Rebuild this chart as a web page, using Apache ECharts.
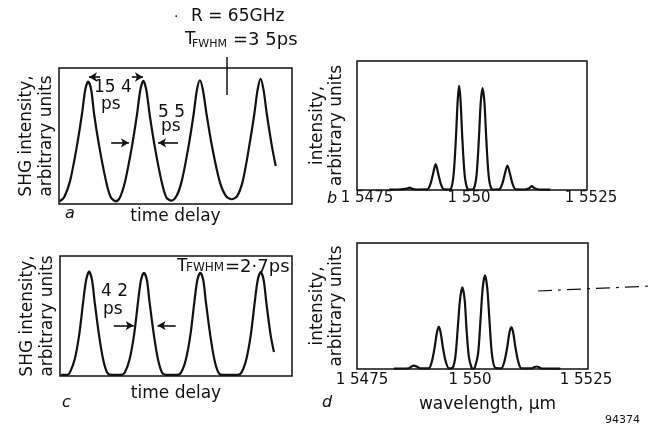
<!DOCTYPE html>
<html>
<head>
<meta charset="utf-8">
<script src="https://cdn.jsdelivr.net/npm/echarts@6/dist/echarts.min.js"></script>
<style>
html, body { margin: 0; padding: 0; background: #fff; }
#main { width: 651px; height: 426px; }
</style>
</head>
<body>
<div id="main"></div>
<script>
// a: SHG autocorrelation, R = 65GHz, T_FWHM = 3.5ps   [time delay (ps), intensity]
var traceA = [
    [0.2, 0.02], [1.4, 0.05], [3.0, 0.17], [4.8, 0.42], [6.2, 0.66], [7.1, 0.84], [7.9, 0.90],
    [8.7, 0.84], [9.5, 0.66], [10.9, 0.42], [12.7, 0.17], [14.0, 0.05], [15.4, 0.02],
    [16.5, 0.05], [17.9, 0.17], [19.7, 0.42], [21.1, 0.66], [22.0, 0.84], [22.8, 0.905],
    [23.6, 0.84], [24.5, 0.66], [25.9, 0.42], [27.7, 0.17], [29.0, 0.05], [30.4, 0.025],
    [31.8, 0.06], [33.2, 0.17], [35.0, 0.42], [36.4, 0.66], [37.3, 0.84], [38.1, 0.91],
    [38.9, 0.84], [39.9, 0.66], [41.4, 0.42], [43.4, 0.17], [45.1, 0.06], [46.7, 0.035],
    [48.2, 0.06], [49.7, 0.17], [51.4, 0.42], [52.8, 0.66], [53.7, 0.84], [54.5, 0.92],
    [55.3, 0.84], [56.2, 0.66], [57.6, 0.42], [58.6, 0.28]
];
// c: T_FWHM = 2.7ps
var traceC = [
    [0.3, 0.01], [2.0, 0.01], [2.7, 0.03], [4.0, 0.14], [5.2, 0.34], [6.3, 0.62], [7.1, 0.80],
    [7.9, 0.87], [8.7, 0.80], [9.4, 0.62], [10.6, 0.34], [11.7, 0.14], [12.8, 0.03], [13.9, 0.01],
    [16.6, 0.01], [17.6, 0.03], [18.9, 0.14], [20.1, 0.34], [21.2, 0.62], [22.0, 0.80], [22.8, 0.86],
    [23.6, 0.80], [24.3, 0.62], [25.5, 0.34], [26.6, 0.14], [27.7, 0.03], [28.8, 0.01],
    [31.8, 0.01], [32.9, 0.03], [34.2, 0.14], [35.4, 0.34], [36.5, 0.62], [37.3, 0.80], [38.1, 0.86],
    [38.9, 0.80], [39.6, 0.62], [40.8, 0.34], [41.9, 0.14], [43.0, 0.03], [44.0, 0.01],
    [48.2, 0.01], [49.3, 0.03], [50.6, 0.14], [51.8, 0.34], [52.9, 0.62], [53.7, 0.80], [54.5, 0.865],
    [55.3, 0.80], [56.0, 0.62], [57.2, 0.34], [58.1, 0.20]
];
// b: optical spectrum for a   [wavelength (um), intensity]
var spectrumB = [
    [1.5482, 0.003], [1.5484, 0.004], [1.54858, 0.01], [1.54864, 0.018], [1.54870, 0.01], [1.5488, 0.004],
    [1.54903, 0.005], [1.54910, 0.05], [1.54915, 0.12], [1.54921, 0.20], [1.54927, 0.12], [1.54932, 0.05],
    [1.54939, 0.005], [1.54948, 0.004],
    [1.54954, 0.008], [1.54960, 0.12], [1.54965, 0.40], [1.54969, 0.70], [1.54972, 0.81], [1.54975, 0.70],
    [1.54979, 0.40], [1.54984, 0.12], [1.54990, 0.01], [1.54997, 0.003],
    [1.55004, 0.01], [1.55010, 0.12], [1.55015, 0.40], [1.55019, 0.68], [1.55023, 0.79], [1.55027, 0.68],
    [1.55031, 0.40], [1.55036, 0.12], [1.55042, 0.01], [1.55050, 0.004],
    [1.55059, 0.005], [1.55066, 0.05], [1.55071, 0.12], [1.55077, 0.19], [1.55083, 0.12], [1.55088, 0.05],
    [1.55095, 0.005], [1.55115, 0.004], [1.55125, 0.015], [1.55130, 0.03], [1.55135, 0.015],
    [1.55145, 0.004], [1.5517, 0.003]
];
// d: optical spectrum for c
var spectrumD = [
    [1.5483, 0.003], [1.54862, 0.006], [1.54868, 0.02], [1.54873, 0.027], [1.54879, 0.02], [1.54887, 0.005],
    [1.54905, 0.005], [1.54912, 0.06], [1.54918, 0.17], [1.54923, 0.29], [1.54927, 0.337], [1.54931, 0.29],
    [1.54936, 0.17], [1.54942, 0.06], [1.54949, 0.005],
    [1.54957, 0.01], [1.54963, 0.10], [1.54968, 0.32], [1.54973, 0.55], [1.54978, 0.648], [1.54983, 0.55],
    [1.54987, 0.32], [1.54992, 0.10], [1.54998, 0.01], [1.55002, 0.002],
    [1.55005, 0.01], [1.55012, 0.12], [1.55017, 0.37], [1.55022, 0.64], [1.55027, 0.743], [1.55032, 0.64],
    [1.55037, 0.37], [1.55042, 0.12], [1.55049, 0.01],
    [1.55062, 0.005], [1.55069, 0.06], [1.55075, 0.17], [1.55080, 0.29], [1.55084, 0.332], [1.55088, 0.29],
    [1.55093, 0.17], [1.55099, 0.06], [1.55106, 0.005],
    [1.55128, 0.005], [1.55134, 0.015], [1.55138, 0.02], [1.55143, 0.015], [1.5515, 0.004], [1.5519, 0.003]
];
var wavelengthTicks = [1.5475, 1.550, 1.5525];
var wavelengthTickLabels = ['1 5475', '1 550', '1 5525'];

// arrows: [fromT, toT, level]
var arrowsA = [[11.1, 8.1, 0.934], [19.7, 22.7, 0.934], [14.1, 18.9, 0.45], [32.2, 26.8, 0.45]];
var arrowsC = [[14.6, 20.0, 0.42], [31.4, 26.5, 0.42]];

var FONT = '"DejaVu Sans", sans-serif';
var INK = '#111';

var myChart = echarts.init(document.getElementById('main'));

function tickLabel(v) {
    for (var i = 0; i < wavelengthTicks.length; i++) {
        if (Math.abs(v - wavelengthTicks[i]) < 1e-6) {
            return '{l' + i + '|' + wavelengthTickLabels[i] + '}';
        }
    }
    return '';
}

function arrowLines(list) {
    return list.map(function (a) {
        return [{ coord: [a[0], a[2]] }, { coord: [a[1], a[2]] }];
    });
}

function timeX(idx, gap) {
    return {
        type: 'value', gridIndex: idx, min: 0, max: 63,
        axisLine: { show: false }, axisTick: { show: false }, axisLabel: { show: false },
        splitLine: { show: false },
        name: 'time delay', nameLocation: 'middle', nameGap: gap,
        nameTextStyle: { fontFamily: FONT, fontSize: 17, color: INK }
    };
}

function waveX(idx, margin, pads) {
    return {
        type: 'value', gridIndex: idx, min: 1.5475, max: 1.5525, interval: 0.0025,
        axisLine: { show: false }, axisTick: { show: false }, splitLine: { show: false },
        axisLabel: {
            margin: margin, formatter: tickLabel, showMinLabel: true, showMaxLabel: true,
            rich: {
                l0: { fontFamily: FONT, fontSize: 15, color: INK, padding: pads[0] },
                l1: { fontFamily: FONT, fontSize: 15, color: INK, padding: pads[1] },
                l2: { fontFamily: FONT, fontSize: 15, color: INK, padding: pads[2] }
            }
        }
    };
}

function intensityY(idx, name, gap, lh) {
    return {
        type: 'value', gridIndex: idx, min: 0, max: 1,
        axisLine: { show: false }, axisTick: { show: false }, axisLabel: { show: false },
        splitLine: { show: false },
        name: name, nameLocation: 'middle', nameRotate: 90, nameGap: gap,
        nameTextStyle: { fontFamily: FONT, fontSize: 17, color: INK, lineHeight: lh }
    };
}

function curve(idx, data, width, marks) {
    var s = {
        type: 'line', xAxisIndex: idx, yAxisIndex: idx, data: data,
        showSymbol: false, smooth: 0.3, silent: true,
        lineStyle: { color: INK, width: width }
    };
    if (marks) {
        s.markLine = {
            silent: true, symbol: ['none', 'arrow'], symbolSize: [7, 8],
            lineStyle: { color: INK, width: 1.6, type: 'solid' },
            label: { show: false }, data: arrowLines(marks)
        };
    }
    return s;
}

function txt(x, y, text, size, extra) {
    var style = { text: text, font: size + 'px ' + FONT, fill: INK, align: 'left', verticalAlign: 'middle' };
    if (extra) { for (var k in extra) { style[k] = extra[k]; } }
    return { type: 'text', x: x, y: y, silent: true, style: style };
}

var border = { show: true, borderColor: INK, borderWidth: 1.5, backgroundColor: 'transparent' };

var option = {
    backgroundColor: '#fff',
    animation: false,
    grid: [
        Object.assign({ left: 59, top: 68, width: 233, height: 136 }, border),
        Object.assign({ left: 357, top: 61, width: 230, height: 129 }, border),
        Object.assign({ left: 60, top: 256, width: 232, height: 120 }, border),
        Object.assign({ left: 357, top: 243, width: 231, height: 126 }, border)
    ],
    xAxis: [
        timeX(0, 4),
        waveX(1, 1, [[0, 0, 0, 20], [0, 6, 0, 0], [0, 0, 0, 8]]),
        timeX(2, 9),
        Object.assign(waveX(3, 4, [[0, 0, 0, 10], [0, 5, 0, 0], [0, 4, 0, 0]]), {
            name: 'wavelength, \u00b5m', nameLocation: 'middle', nameGap: 27,
            nameTextStyle: { fontFamily: FONT, fontSize: 17, color: INK, padding: [0, 0, 0, 30] }
        })
    ],
    yAxis: [
        intensityY(0, 'SHG intensity,\narbitrary units', 2, 20),
        intensityY(1, 'intensity,\narbitrary units', 11, 19),
        intensityY(2, 'SHG intensity,\narbitrary units', 2, 20),
        intensityY(3, 'intensity,\narbitrary units', 11, 19)
    ],
    series: [
        curve(0, traceA, 2.2, arrowsA),
        curve(1, spectrumB, 2.2),
        curve(2, traceC, 2.2, arrowsC),
        curve(3, spectrumD, 2.2)
    ],
    graphic: [
        // panel a annotations
        txt(174, 17, '\u00b7', 14),
        txt(191, 17, 'R = 65GHz', 17),
        txt(185, 40, 'T', 17),
        txt(192, 44, 'FWHM', 11),
        txt(233, 40, '=3 5ps', 18),
        { type: 'line', silent: true, shape: { x1: 227, y1: 57, x2: 227, y2: 95 }, style: { stroke: INK, lineWidth: 1.5 } },
        txt(94, 88, '15 4', 17),
        txt(101, 105, 'ps', 17),
        txt(158, 113, '5 5', 17),
        txt(161, 127, 'ps', 17),
        // panel c annotations
        txt(177, 267, 'T', 17),
        txt(186, 268, 'FWHM', 12),
        txt(225, 267, '=2\u00b77ps', 18),
        txt(101, 292, '4 2', 17),
        txt(103, 310, 'ps', 17),
        // panel letters
        txt(65, 214, 'a', 16, { font: 'italic 16px ' + FONT }),
        txt(327, 199, 'b', 16, { font: 'italic 16px ' + FONT }),
        txt(62, 403, 'c', 16, { font: 'italic 16px ' + FONT }),
        txt(322, 403, 'd', 16, { font: 'italic 16px ' + FONT }),
        // trace on the right of d and figure number
        { type: 'line', silent: true, shape: { x1: 538, y1: 291, x2: 651, y2: 286 }, style: { stroke: INK, lineWidth: 1.2, lineDash: [14, 6, 3, 6] } },
        txt(605, 420, '94374', 11)
    ]
};
myChart.setOption(option);
</script>
</body>
</html>
